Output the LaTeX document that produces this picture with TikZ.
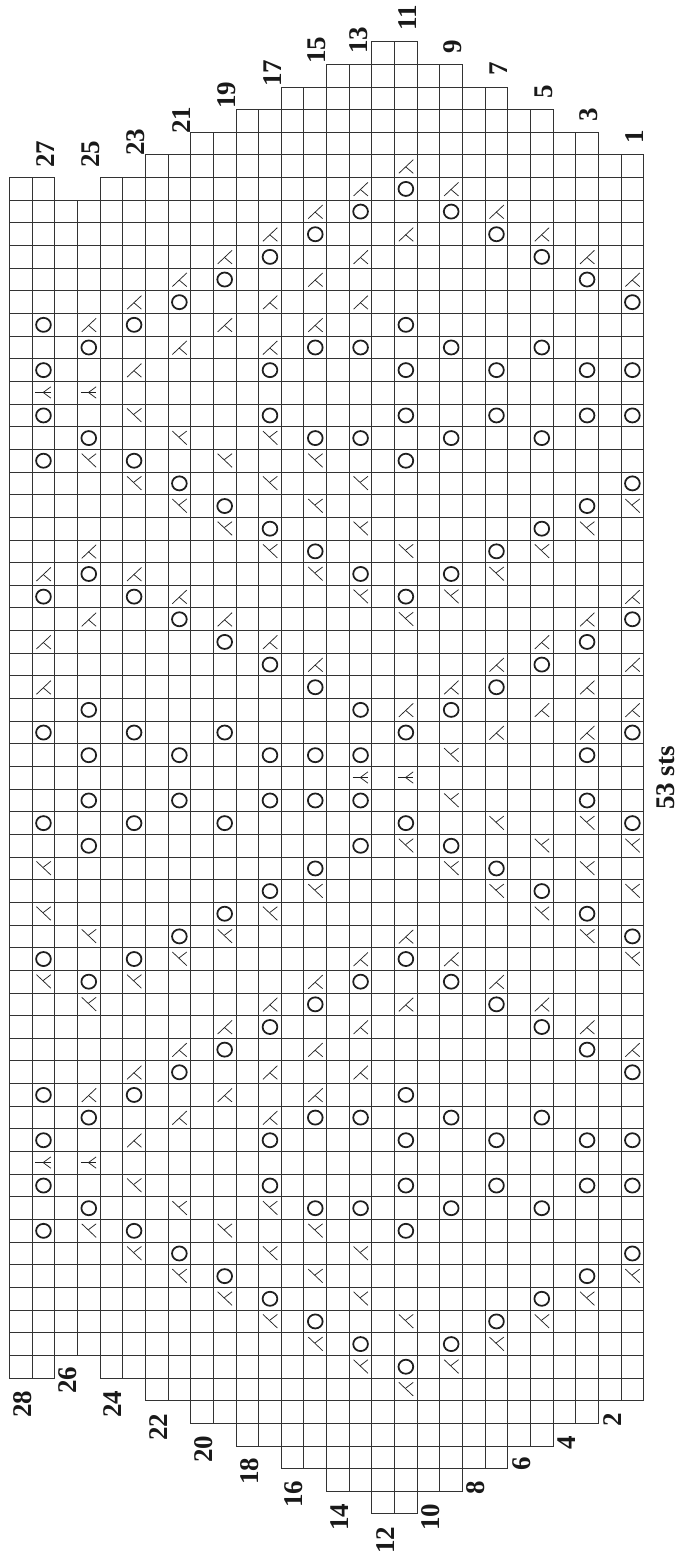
\documentclass[tikz,border=0pt]{standalone}
\usepackage{fontspec}
\setmainfont{Liberation Serif}
\tikzset{
  gridline/.style={draw=black!80,line width=1pt},
  stitchline/.style={draw=black!85,line width=0.75pt},
  rownum/.style={font=\fontsize{27}{27}\selectfont\bfseries,rotate=90,inner sep=0pt,text=black!90},
  pics/yarnover/.style={code={
    \draw[draw=black!88,line width=1.75pt] (0.5,0.5) circle [x radius=0.325,y radius=0.31];
  }},
  pics/leanup/.style={code={
    \draw[stitchline] (0.19,0.81) -- (0.826,0.21);
    \draw[stitchline] (0.486,0.52) -- (0.826,0.81);
  }},
  pics/leandown/.style={code={
    \draw[stitchline] (0.19,0.19) -- (0.826,0.79);
    \draw[stitchline] (0.486,0.45) -- (0.826,0.19);
  }},
  pics/centerdec/.style={code={
    \draw[draw=black!88,line width=1.3pt] (0.146,0.486) -- (0.826,0.486);
    \draw[stitchline] (0.486,0.486) -- (0.826,0.235);
    \draw[stitchline] (0.486,0.486) -- (0.826,0.737);
  }}
}
\begin{document}
\begin{tikzpicture}[x=1pt,y=-1pt]
  \useasboundingbox (0,0) rectangle (679,1556);

  \begin{scope}[shift={(9.5,41.7)},x=22.65pt,y=-22.65pt]
    % columns of the chart, each with the first cell it reaches
    \foreach \k/\top in {0/6,1/6,2/7,3/7,4/6,5/6,6/5,7/5,8/4,9/4,10/3,11/3,12/2,13/2,
                         14/1,15/1,16/0,17/0,18/1,19/1,20/2,21/2,22/3,23/3,24/4,25/4,26/5,27/5}{
      \pgfmathtruncatemacro{\bottom}{65-\top}
      \draw[gridline] (\k,\top) rectangle (\k+1,\bottom);
      \foreach \j in {\top,...,\bottom}
        \draw[gridline] (\k,\j) -- (\k+1,\j);
    }

    % yarn overs
    \foreach \j/\cols in {6/{17},7/{15,19},8/{13,21},9/{11,23},10/{9,25},11/{7,27},12/{1,5,17},
        13/{3,13,15,19,23},14/{1,11,17,21,25,27},16/{1,11,17,21,25,27},17/{3,13,15,19,23},
        18/{1,5,17},19/{7,27},20/{9,25},21/{11,23},22/{13,21},23/{3,15,19},24/{1,5,17},
        25/{7,27},26/{9,25},27/{11,23},28/{13,21},29/{3,15,19},30/{1,5,9,17,27},
        31/{3,7,11,13,15,25},33/{3,7,11,13,15,25},34/{1,5,9,17,27},35/{3,15,19},36/{13,21},
        37/{11,23},38/{9,25},39/{7,27},40/{1,5,17},41/{3,15,19},42/{13,21},43/{11,23},
        44/{9,25},45/{7,27},46/{1,5,17},47/{3,13,15,19,23},48/{1,11,17,21,25,27},
        50/{1,11,17,21,25,27},51/{3,13,15,19,23},52/{1,5,17},53/{7,27},54/{9,25},55/{11,23},
        56/{13,21},57/{15,19},58/{17}}
      \foreach \k in \cols
        \pic at (\k,\j) {yarnover};

    % strokes leaning up
    \foreach \j/\cols in {5/{17},6/{15,19},7/{13,21},8/{11,17,23},9/{9,15,25},10/{7,13,27},
        11/{5,11,15},12/{3,9,13},13/{7,11},14/{5},22/{3},23/{1,5},24/{7,27},25/{3,9,25},
        26/{1,11,23},27/{13,21,27},28/{1,19,25},29/{17,23,27},30/{21,25},39/{17},
        40/{15,19},41/{13,21},42/{11,17,23},43/{9,15,25},44/{7,13,27},45/{5,11,15},
        46/{3,9,13},47/{7,11},48/{5}}
      \foreach \k in \cols
        \pic at (\k,\j) {leanup};

    % strokes leaning down
    \foreach \j/\cols in {16/{5},17/{7,11},18/{3,9,13},19/{5,11,15},20/{7,13,27},21/{9,15,25},
        22/{11,17,23},23/{13,21},24/{15,19},25/{17},31/{19},33/{19},34/{21,25},35/{17,23,27},
        36/{1,19,25},37/{13,21,27},38/{1,11,23},39/{3,9,25},40/{7,27},41/{1,5},42/{3},
        50/{5},51/{7,11},52/{3,9,13},53/{5,11,15},54/{7,13,27},55/{9,15,25},56/{11,17,23},
        57/{13,21},58/{15,19},59/{17}}
      \foreach \k in \cols
        \pic at (\k,\j) {leandown};

    % centre decreases
    \foreach \j/\cols in {15/{1,3},32/{15,17},49/{1,3}}
      \foreach \k in \cols
        \pic at (\k,\j) {centerdec};
  \end{scope}

  % row numbers
  \foreach \n/\px/\py in {1/635/137,3/589/115,5/544/92,7/499/69,9/453/47,11/408/17.5,13/359/40,
      15/317/50,17/273/73,19/227/95,21/182/120,23/136/142,25/91/154,27/45.5/154,
      2/612.5/1420,4/567/1443,6/522/1464,8/476/1488,10/431/1517,12/386/1540,14/340/1517,
      16/294/1494,18/250/1471,20/204/1449,22/159/1427,24/113/1404,26/68/1380,28/23/1404}
    \node[rownum] (row\n) at (\px,\py) {\n};

  \node[rownum] (sts) at (665.5,778) {53 sts};
\end{tikzpicture}
\end{document}
